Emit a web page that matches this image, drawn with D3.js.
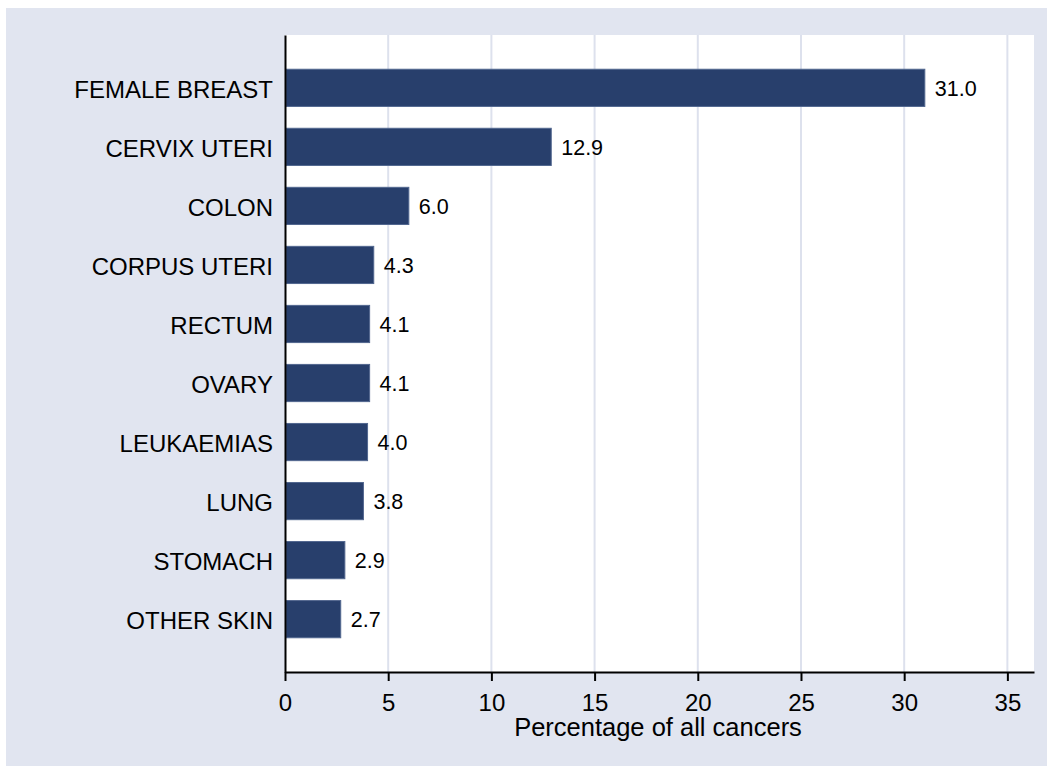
<!DOCTYPE html>
<html>
<head>
<meta charset="utf-8">
<script src="https://cdn.jsdelivr.net/npm/d3@7"></script>
<style>
  body { margin: 0; background: #fff; }
  svg { display: block; font-family: "Liberation Sans", Arial, sans-serif; }
  .bar { fill: #283f6c; stroke: #52678f; stroke-width: 1px; }
  .grid line { stroke: #dde1ed; stroke-width: 2px; }
  .axis path, .axis line { stroke: #000; stroke-width: 2px; }
</style>
</head>
<body>
<script>
// data
var categories = ["FEMALE BREAST", "CERVIX UTERI", "COLON", "CORPUS UTERI", "RECTUM",
                  "OVARY", "LEUKAEMIAS", "LUNG", "STOMACH", "OTHER SKIN"];
var values = [31.0, 12.9, 6.0, 4.3, 4.1, 4.1, 4.0, 3.8, 2.9, 2.7];
var xTicks = [0, 5, 10, 15, 20, 25, 30, 35];
var xTitle = "Percentage of all cancers";

var W = 1047, H = 766;
var plot = {left: 285, right: 1034, top: 35, bottom: 672};

var svg = d3.select("body").append("svg")
  .attr("width", W).attr("height", H);

// outer lavender panel
svg.append("rect")
  .attr("x", 6).attr("y", 8)
  .attr("width", W - 6).attr("height", H - 8)
  .attr("fill", "#e1e5f0");

// white plot region
svg.append("rect")
  .attr("x", plot.left).attr("y", plot.top)
  .attr("width", plot.right - plot.left).attr("height", plot.bottom - plot.top)
  .attr("fill", "#fff");

var x = d3.scaleLinear().domain([0, 36.29]).range([plot.left, plot.right]);
var y = d3.scaleBand().domain(categories)
  .range([plot.top, plot.bottom])
  .paddingInner(0.37).paddingOuter(0.58);

// vertical grid lines
svg.append("g").attr("class", "grid")
  .selectAll("line")
  .data(xTicks.filter(function(d) { return d > 0; }))
  .join("line")
  .attr("x1", function(d) { return x(d); })
  .attr("x2", function(d) { return x(d); })
  .attr("y1", plot.top).attr("y2", plot.bottom);

// bars
svg.append("g").selectAll("rect")
  .data(values)
  .join("rect")
  .attr("class", "bar")
  .attr("x", x(0) + 1)
  .attr("y", function(d, i) { return y(categories[i]); })
  .attr("width", function(d) { return x(d) - x(0) - 1; })
  .attr("height", y.bandwidth());

// value labels
svg.append("g").selectAll("text")
  .data(values)
  .join("text")
  .attr("x", function(d) { return x(d) + 10; })
  .attr("y", function(d, i) { return y(categories[i]) + y.bandwidth() / 2 + 8; })
  .attr("font-size", 21.5)
  .attr("fill", "#000")
  .text(function(d) { return d.toFixed(1); });

// x axis
var xAxis = svg.append("g").attr("class", "axis")
  .attr("transform", "translate(0," + plot.bottom + ")")
  .call(d3.axisBottom(x).tickValues(xTicks).tickSize(9).tickSizeOuter(0).tickPadding(13));
xAxis.selectAll("text").attr("font-size", 24).attr("fill", "#000")
  .style("font-family", "'Liberation Sans', Arial, sans-serif");

// y axis
var yAxis = svg.append("g").attr("class", "axis")
  .attr("transform", "translate(" + plot.left + ",0)")
  .call(d3.axisLeft(y).tickSize(0).tickSizeOuter(0).tickPadding(12));
yAxis.selectAll("text").attr("font-size", 24).attr("fill", "#000")
  .attr("dy", "0.42em")
  .style("font-family", "'Liberation Sans', Arial, sans-serif");

// axis title
svg.append("text")
  .attr("x", 658).attr("y", 736)
  .attr("text-anchor", "middle")
  .attr("font-size", 25.5)
  .attr("fill", "#000")
  .text(xTitle);
</script>
</body>
</html>
